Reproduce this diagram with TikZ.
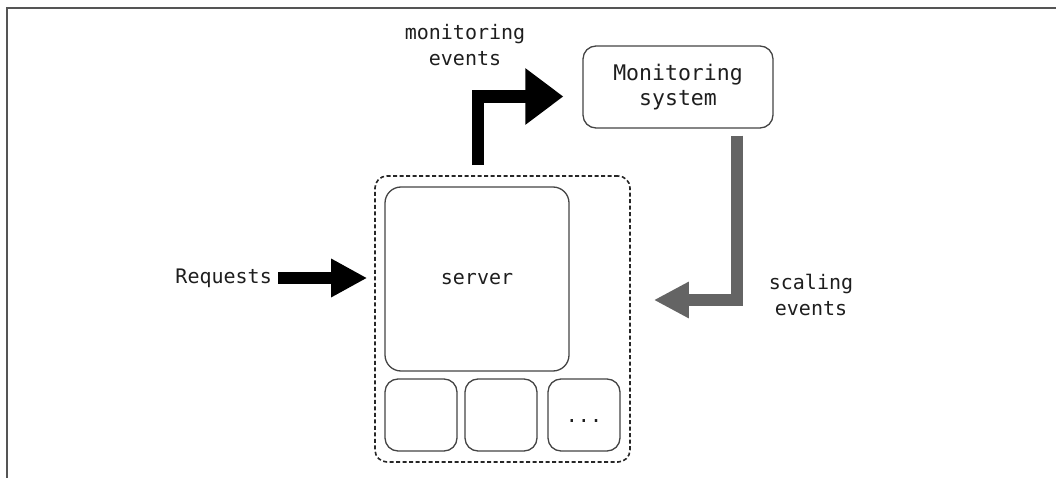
\documentclass[tikz,border=0pt]{standalone}
\usepackage{fontspec}
\setmonofont{DejaVu Sans Mono}
\usetikzlibrary{arrows.meta}
\definecolor{framegray}{HTML}{555555}
\definecolor{boxgray}{HTML}{444444}
\definecolor{scalegray}{HTML}{646464}
\definecolor{txt}{HTML}{1E1E1E}
\begin{document}
\begin{tikzpicture}[x=1pt,y=-1pt,
  lbl/.style={font=\ttfamily\fontsize{20}{26}\selectfont, text=txt, align=center, inner sep=0pt},
  box/.style={draw=boxgray, line width=1.3pt, rounded corners=14pt, inner sep=0pt,
              font=\ttfamily\fontsize{20}{26}\selectfont, text=txt, align=center},
  dashbox/.style={draw=black!85, line width=1.6pt, dash pattern=on 4pt off 2.5pt, rounded corners=12pt, inner sep=0pt},
  fatarrow/.style={line width=12.5pt, line join=miter, line cap=butt},
  frameline/.style={draw=framegray, line width=2.2pt}
]
\useasboundingbox (0,0) rectangle (1056,478);
\draw[frameline] (1056,8) -- (7,8) -- (7,478);

% outer dashed container
\node[dashbox, minimum width=255pt, minimum height=286pt] (outer) at (502.5,319) {};
% server and small boxes
\node[box, rounded corners=16pt, minimum width=184pt, minimum height=184pt] (server) at (477,279) {server};
\node[box, rounded corners=13pt, minimum width=72pt, minimum height=72pt] (s1) at (421,415) {};
\node[box, rounded corners=13pt, minimum width=72pt, minimum height=72pt] (s2) at (501,415) {};
\node[box, rounded corners=13pt, minimum width=72pt, minimum height=72pt] (s3) at (584,415) {};
\node[lbl, anchor=base] (dots) at (584,422) {...};

% monitoring system
\node[box, rounded corners=13pt, minimum width=190pt, minimum height=82pt,
      font=\ttfamily\fontsize{21.5}{25}\selectfont] (monitor) at (678,87) {Monitoring\\system};

% labels
\node[lbl] (mevents) at (465,45) {monitoring\\events};
\node[lbl] (sevents) at (811,295) {scaling\\events};
\node[lbl, anchor=east] (req) at (272,278) {Requests};

% arrows
\draw[fatarrow, black, -{Triangle[length=36pt,width=36pt]}, shorten <=6pt, shorten >=7pt]
  (req.east) -- (req.east -| outer.west);
\draw[fatarrow, black, -{Triangle[length=38pt,width=54pt]}, shorten <=10pt, shorten >=19pt]
  ([xshift=-24.5pt]outer.north) |- ([yshift=-9.5pt]monitor.west);
\draw[fatarrow, scalegray, -{Triangle[length=35pt,width=34pt]}, shorten <=7pt, shorten >=23pt]
  ([xshift=59pt]monitor.south) |- ([yshift=19pt]outer.east);
\end{tikzpicture}
\end{document}
